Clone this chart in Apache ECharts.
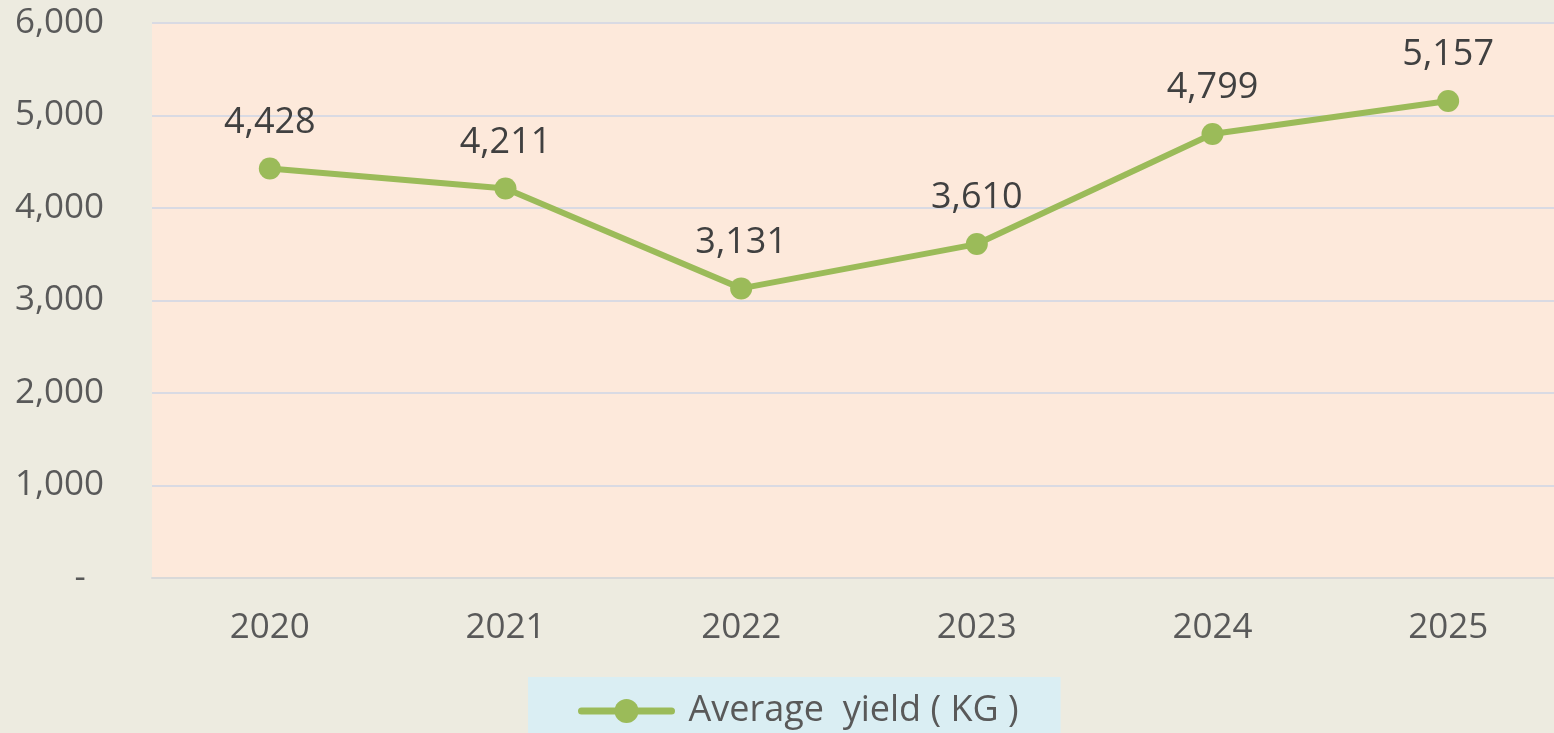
<!DOCTYPE html>
<html><head><meta charset="utf-8">
<script src="https://cdn.jsdelivr.net/npm/echarts@6/dist/echarts.min.js"></script>
<style>html,body{margin:0;padding:0;background:#EDEBE0;overflow:hidden;}#c{width:1566px;height:733px;}</style>
</head><body><div id="c"></div>
<script>
const years = ['2020', '2021', '2022', '2023', '2024', '2025'];
const yieldKg = [4428, 4211, 3131, 3610, 4799, 5157];
const seriesName = 'Average  yield ( KG )';
const yTicks = [0, 1000, 2000, 3000, 4000, 5000, 6000];

const fmt = v => v === 0 ? '-  ' : v.toLocaleString('en-US');
const chart = echarts.init(document.getElementById('c'));
const FONT = 'Open Sans';
chart.setOption({
  backgroundColor: '#EDEBE0',
  animation: false,
  grid: { left: 152, top: 23, bottom: 155, right: 0, show: true, backgroundColor: '#FDE9DB', borderWidth: 0 },
  legend: {
    data: [seriesName], top: 677, left: 528,
    backgroundColor: '#DAEEF3', padding: [16, 42, 30, 50],
    itemWidth: 90, itemHeight: 30, itemGap: 0,
    lineStyle: { width: 7, cap: 'round' },
    textStyle: { fontFamily: FONT, fontSize: 36, color: '#595959', padding: [0, 0, 0, 12] }
  },
  xAxis: {
    type: 'category', data: years,
    axisLine: { lineStyle: { color: '#D9D9D9', width: 2 } },
    axisTick: { show: false },
    axisLabel: { fontFamily: FONT, fontSize: 35, color: '#595959', margin: 33 }
  },
  yAxis: {
    type: 'value', min: yTicks[0], max: yTicks[yTicks.length - 1], interval: 1000,
    axisLine: { show: false }, axisTick: { show: false },
    splitLine: { lineStyle: { color: '#D9DAE3', width: 2 } },
    axisLabel: { fontFamily: FONT, fontSize: 35, color: '#595959', margin: 48, formatter: fmt }
  },
  series: [{
    name: seriesName, type: 'line', data: yieldKg,
    symbol: 'circle', symbolSize: 22,
    lineStyle: { color: '#9BBB59', width: 6 },
    itemStyle: { color: '#9BBB59' },
    label: { show: true, position: 'top', distance: 17, fontFamily: FONT, fontSize: 36, color: '#404040',
      formatter: p => p.value.toLocaleString('en-US') }
  }]
});
</script></body></html>
